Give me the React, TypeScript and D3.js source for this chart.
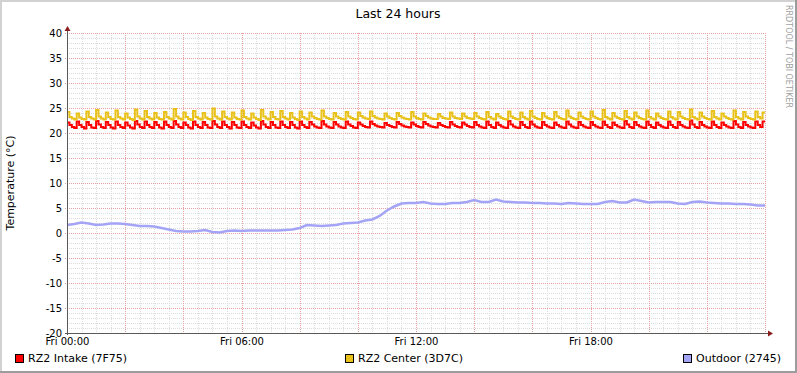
import React, { useEffect, useRef } from 'react';
import * as d3 from 'd3';

// ### Data (5 minute steps for the two room sensors, 15 minute steps outdoors)
const startTime = new Date(2024, 0, 5, 0, 0, 0); // a Friday
const stepMinutes = 5;
const outdoorStepMinutes = 15;

const intake: number[] = [
  22.1, 21.6, 21.2, 21.0, 22.3, 21.6, 21.2, 20.9, 22.2, 21.6, 21.1, 21.0,
  22.4, 21.7, 21.2, 21.0, 22.2, 21.6, 21.1, 20.9, 22.3, 21.6, 21.2, 21.0,
  22.1, 21.5, 21.1, 20.9, 22.4, 21.7, 21.2, 21.0, 22.3, 21.6, 21.2, 21.0,
  22.2, 21.6, 21.1, 20.9, 22.3, 21.6, 21.2, 21.0, 22.4, 21.7, 21.2, 21.0,
  22.1, 21.6, 21.1, 20.9, 22.3, 21.6, 21.2, 21.0, 22.2, 21.6, 21.1, 21.0,
  22.4, 21.7, 21.2, 21.0, 22.3, 21.6, 21.2, 20.9, 22.2, 21.6, 21.1, 21.0,
  22.3, 21.6, 21.2, 21.0, 22.1, 21.5, 21.1, 20.9, 22.4, 21.7, 21.2, 21.0,
  22.2, 21.6, 21.1, 21.0, 22.3, 21.6, 21.2, 21.0, 22.2, 21.6, 21.1, 20.9,
  22.3, 21.6, 21.2, 21.0, 22.2, 21.7, 21.3, 21.1, 21.0, 22.4, 21.7, 21.3,
  21.1, 21.0, 22.2, 21.7, 21.3, 21.1, 21.0, 22.3, 21.7, 21.4, 21.1, 21.0,
  22.1, 21.7, 21.4, 21.2, 21.1, 22.3, 21.8, 21.5, 21.3, 21.2, 21.1, 22.0,
  21.6, 21.4, 21.2, 21.1, 22.2, 21.8, 21.5, 21.3, 21.2, 21.1, 22.1, 21.7,
  21.4, 21.2, 21.1, 22.2, 21.8, 21.5, 21.3, 21.2, 21.1, 22.0, 21.6, 21.4,
  21.2, 21.1, 22.2, 21.7, 21.4, 21.2, 21.1, 22.1, 21.7, 21.4, 21.2, 21.1,
  22.2, 21.6, 21.3, 21.1, 21.0, 22.3, 21.6, 21.2, 21.0, 22.1, 21.6, 21.3,
  21.1, 21.0, 22.4, 21.7, 21.3, 21.1, 21.0, 22.2, 21.6, 21.2, 21.0, 22.3,
  21.7, 21.3, 21.1, 21.0, 22.2, 21.6, 21.3, 21.1, 21.0, 22.1, 21.6, 21.3,
  21.1, 21.0, 22.3, 21.7, 21.3, 21.1, 21.0, 22.2, 21.6, 21.3, 21.1, 21.0,
  22.2, 21.6, 21.3, 21.1, 21.0, 22.3, 21.6, 21.2, 21.0, 22.1, 21.6, 21.3,
  21.1, 21.0, 22.4, 21.7, 21.2, 21.0, 22.2, 21.6, 21.3, 21.1, 21.0, 22.3,
  21.6, 21.2, 21.0, 22.1, 21.6, 21.3, 21.1, 21.0, 22.3, 21.6, 21.2, 21.0,
  22.2, 21.6, 21.3, 21.1, 21.0, 22.5, 21.7, 21.2, 21.0, 22.2, 21.6, 21.3,
  21.1, 21.0, 22.3, 21.6, 21.2, 21.0, 22.1, 21.6, 21.3, 21.1, 21.0, 22.4,
  21.7, 21.2, 21.0, 22.2, 21.6, 21.3, 21.1, 21.0, 22.3, 21.6, 21.2, 22.3,
];

const center: number[] = [
  24.2, 23.2, 22.9, 22.7, 23.9, 23.1, 22.8, 22.7, 24.3, 23.2, 22.9, 22.7,
  24.6, 23.3, 22.9, 22.7, 24.1, 23.2, 22.8, 22.7, 24.5, 23.2, 22.9, 22.7,
  23.9, 23.1, 22.8, 22.6, 24.7, 23.3, 22.9, 22.7, 24.4, 23.2, 22.9, 22.7,
  24.0, 23.1, 22.8, 22.7, 24.2, 23.2, 22.9, 22.7, 24.8, 23.3, 22.9, 22.7,
  24.1, 23.2, 22.8, 22.6, 24.4, 23.2, 22.9, 22.7, 24.0, 23.1, 22.8, 22.7,
  24.9, 23.3, 22.9, 22.7, 24.3, 23.2, 22.9, 22.7, 24.1, 23.1, 22.8, 22.7,
  24.5, 23.2, 22.9, 22.7, 23.9, 23.1, 22.8, 22.6, 24.6, 23.3, 22.9, 22.7,
  24.2, 23.2, 22.8, 22.7, 24.4, 23.2, 22.9, 22.7, 24.0, 23.1, 22.8, 22.6,
  24.3, 23.2, 22.9, 22.7, 24.1, 23.3, 23.0, 22.8, 22.7, 24.5, 23.3, 23.0,
  22.8, 22.7, 24.0, 23.3, 23.0, 22.8, 22.7, 24.2, 23.3, 23.0, 22.8, 22.7,
  24.1, 23.4, 23.1, 22.9, 22.8, 24.3, 23.4, 23.1, 22.9, 22.8, 22.7, 23.9,
  23.3, 23.0, 22.8, 22.7, 24.0, 23.4, 23.1, 22.9, 22.8, 22.7, 24.2, 23.3,
  23.0, 22.8, 22.7, 23.9, 23.4, 23.1, 22.9, 22.8, 22.8, 23.8, 23.3, 23.0,
  22.9, 22.8, 24.1, 23.3, 23.0, 22.9, 22.8, 23.9, 23.3, 23.0, 22.9, 22.8,
  24.0, 23.3, 23.0, 22.8, 22.7, 24.2, 23.2, 22.9, 22.7, 23.8, 23.3, 23.0,
  22.8, 22.7, 24.3, 23.3, 23.0, 22.8, 22.7, 24.1, 23.2, 22.9, 22.7, 24.4,
  23.3, 23.0, 22.8, 22.7, 24.0, 23.3, 23.0, 22.8, 22.7, 24.2, 23.3, 23.0,
  22.8, 22.7, 24.5, 23.3, 23.0, 22.8, 22.7, 24.1, 23.3, 23.0, 22.8, 22.7,
  24.3, 23.3, 23.0, 22.8, 22.7, 24.6, 23.2, 22.9, 22.7, 24.0, 23.3, 23.0,
  22.8, 22.7, 24.4, 23.2, 22.9, 22.7, 24.1, 23.3, 23.0, 22.8, 22.7, 24.5,
  23.2, 22.9, 22.7, 23.9, 23.3, 23.0, 22.8, 22.7, 24.3, 23.2, 22.9, 22.7,
  24.2, 23.3, 23.0, 22.8, 22.7, 24.7, 23.2, 22.9, 22.7, 24.1, 23.3, 23.0,
  22.8, 22.7, 24.4, 23.2, 22.9, 22.7, 23.9, 23.3, 23.0, 22.8, 22.7, 24.5,
  23.2, 22.9, 22.7, 24.2, 23.3, 23.0, 22.8, 22.7, 24.3, 23.2, 22.9, 24.1,
];

const outdoor: number[] = [
  1.6, 1.8, 2.1, 1.9, 1.6, 1.7, 1.9, 1.9, 1.8, 1.6, 1.4, 1.4,
  1.3, 1.0, 0.7, 0.4, 0.3, 0.3, 0.4, 0.6, 0.2, 0.1, 0.4, 0.5,
  0.4, 0.5, 0.5, 0.5, 0.5, 0.5, 0.6, 0.7, 1.0, 1.6, 1.5, 1.4,
  1.5, 1.6, 1.9, 2.0, 2.1, 2.5, 2.7, 3.4, 4.5, 5.3, 5.9, 6.0,
  6.0, 6.2, 5.9, 5.8, 5.8, 6.0, 6.0, 6.2, 6.6, 6.2, 6.2, 6.7,
  6.3, 6.2, 6.1, 6.1, 6.0, 6.0, 5.9, 5.9, 5.8, 6.0, 5.9, 5.8,
  5.8, 5.8, 6.2, 6.4, 6.1, 6.1, 6.7, 6.4, 6.1, 6.2, 6.2, 6.2,
  5.9, 5.8, 6.2, 6.3, 6.1, 6.0, 5.9, 5.9, 5.8, 5.8, 5.7, 5.5,
];

const yTicks = [40, 35, 30, 25, 20, 15, 10, 5, 0, -5, -10, -15, -20];
const xLabelHours = [0, 6, 12, 18];
const seriesNames = ['RZ2 Intake (7F75)', 'RZ2 Center (3D7C)', 'Outdoor (2745)'];
const seriesColors = ['#FF0000', '#E9C11B', '#A4A4F6'];

const W = 797;
const H = 373;

const RrdTemperatureGraph: React.FC = () => {
  const svgRef = useRef<SVGSVGElement>(null);

  useEffect(() => {
    if (!svgRef.current) return;
    const svg = d3.select(svgRef.current);
    svg.selectAll('*').remove();

    const font = "'DejaVu Sans', sans-serif";
    const plot = { left: 67, right: 765, top: 33, bottom: 333 };
    const endTime = d3.timeHour.offset(startTime, 24);

    const x = d3.scaleTime().domain([startTime, endTime]).range([plot.left, plot.right]);
    const y = d3.scaleLinear().domain([-20, 40]).range([plot.bottom, plot.top]);
    const px = (v: number) => Math.round(v) + 0.5;

    // ### Frame
    svg.append('rect').attr('width', W).attr('height', H).attr('fill', '#FFFFFF');
    svg.append('rect').attr('x', 0).attr('y', 0).attr('width', W).attr('height', 2).attr('fill', '#D2D2D2');
    svg.append('rect').attr('x', 0).attr('y', 0).attr('width', 2).attr('height', H).attr('fill', '#D2D2D2');
    svg.append('rect').attr('x', 0).attr('y', H - 2).attr('width', W).attr('height', 2).attr('fill', '#9C9C9C');
    svg.append('rect').attr('x', W - 2).attr('y', 0).attr('width', 2).attr('height', H).attr('fill', '#9C9C9C');

    // ### Grid
    const grid = svg.append('g').attr('shape-rendering', 'crispEdges');
    const minorY = d3.range(-20, 41, 1).filter(v => v % 5 !== 0);
    grid.selectAll('.hminor').data(minorY).join('line')
      .attr('x1', plot.left).attr('x2', plot.right)
      .attr('y1', d => px(y(d))).attr('y2', d => px(y(d)))
      .attr('stroke', '#DCDCDC').attr('stroke-dasharray', '1,1');
    const minorX = d3.timeMinute.every(30)!.range(startTime, d3.timeMinute.offset(endTime, 1))
      .filter(d => d.getMinutes() !== 0 || d.getHours() % 2 !== 0);
    grid.selectAll('.vminor').data(minorX).join('line')
      .attr('x1', d => px(x(d))).attr('x2', d => px(x(d)))
      .attr('y1', plot.top).attr('y2', plot.bottom)
      .attr('stroke', '#DCDCDC').attr('stroke-dasharray', '1,1');
    grid.selectAll('.hmajor').data(yTicks).join('line')
      .attr('x1', plot.left - 2).attr('x2', plot.right)
      .attr('y1', d => px(y(d))).attr('y2', d => px(y(d)))
      .attr('stroke', '#E6A2A2').attr('stroke-dasharray', '1,1');
    const majorX = d3.timeHour.every(2)!.range(startTime, d3.timeMinute.offset(endTime, 1));
    grid.selectAll('.vmajor').data(majorX).join('line')
      .attr('x1', d => px(x(d))).attr('x2', d => px(x(d)))
      .attr('y1', plot.top).attr('y2', plot.bottom + 2)
      .attr('stroke', '#E6A2A2').attr('stroke-dasharray', '1,1');

    // ### Series
    const toPoints = (vals: number[], mins: number) => {
      const pts = vals.map((v, i) => ({ t: d3.timeMinute.offset(startTime, i * mins), v }));
      pts.push({ t: d3.timeMinute.offset(startTime, vals.length * mins), v: vals[vals.length - 1] });
      return pts;
    };
    const stepLine = d3.line<{ t: Date; v: number }>()
      .x(d => x(d.t))
      .y(d => y(d.v))
      .curve(d3.curveStepAfter);
    const smoothLine = d3.line<{ t: Date; v: number }>()
      .x(d => x(d.t))
      .y(d => y(d.v));

    [intake, center].forEach((vals, i) => {
      svg.append('path')
        .datum(toPoints(vals, stepMinutes))
        .attr('fill', 'none')
        .attr('stroke', seriesColors[i])
        .attr('stroke-width', 2)
        .attr('stroke-linejoin', 'miter')
        .attr('d', stepLine);
    });
    svg.append('path')
      .datum(toPoints(outdoor, outdoorStepMinutes))
      .attr('fill', 'none')
      .attr('stroke', seriesColors[2])
      .attr('stroke-width', 2.5)
      .attr('d', smoothLine);

    // ### Axes
    const axisG = svg.append('g').attr('shape-rendering', 'crispEdges');
    axisG.append('line').attr('x1', px(plot.left)).attr('x2', px(plot.left))
      .attr('y1', plot.bottom + 2).attr('y2', plot.top - 4).attr('stroke', '#5A5A5A');
    axisG.append('line').attr('x1', plot.left - 2).attr('x2', plot.right + 4)
      .attr('y1', px(plot.bottom)).attr('y2', px(plot.bottom)).attr('stroke', '#5A5A5A');
    svg.append('path')
      .attr('d', `M${plot.left + 0.5},${plot.top - 7} L${plot.left + 3.5},${plot.top - 2} L${plot.left - 2.5},${plot.top - 2} Z`)
      .attr('fill', '#8B1C1C');
    svg.append('path')
      .attr('d', `M${plot.right + 8},${plot.bottom + 0.5} L${plot.right + 3},${plot.bottom + 3.5} L${plot.right + 3},${plot.bottom - 2.5} Z`)
      .attr('fill', '#8B1C1C');

    const yAxis = d3.axisLeft(y).tickValues(yTicks).tickSize(0).tickPadding(0)
      .tickFormat(d => String(d));
    const yAxisG = svg.append('g').attr('transform', `translate(${plot.left - 5},0)`).call(yAxis);
    yAxisG.select('.domain').remove();
    yAxisG.selectAll('text').attr('font-family', font).attr('font-size', 10).attr('fill', '#000').attr('dy', '0.36em');

    const xAxis = d3.axisBottom(x)
      .tickValues(xLabelHours.map(h => d3.timeHour.offset(startTime, h)))
      .tickSize(0).tickPadding(0)
      .tickFormat(d => d3.timeFormat('%a %H:%M')(d as Date));
    const xAxisG = svg.append('g').attr('transform', `translate(0,${plot.bottom + 4})`).call(xAxis);
    xAxisG.select('.domain').remove();
    xAxisG.selectAll('text').attr('font-family', font).attr('font-size', 10).attr('fill', '#000').attr('dy', '0.8em');

    // ### Titles
    svg.append('text').attr('x', 398).attr('y', 18).attr('text-anchor', 'middle')
      .attr('font-family', font).attr('font-size', 12.5).text('Last 24 hours');
    svg.append('text').attr('transform', `translate(14,${(plot.top + plot.bottom) / 2}) rotate(-90)`)
      .attr('text-anchor', 'middle').attr('font-family', font).attr('font-size', 11)
      .text('Temperature (°C)');
    svg.append('text').attr('transform', `translate(786,5) rotate(90)`)
      .attr('font-family', font).attr('font-size', 8).attr('fill', '#A0A0A0')
      .text('RRDTOOL / TOBI OETIKER');

    // ### Legend
    const legendX = [15, 345, 683];
    seriesNames.forEach((name, i) => {
      svg.append('rect').attr('x', legendX[i] + 0.5).attr('y', 354.5).attr('width', 8).attr('height', 8)
        .attr('fill', seriesColors[i]).attr('stroke', '#000').attr('shape-rendering', 'crispEdges');
      svg.append('text').attr('x', legendX[i] + 13).attr('y', 362)
        .attr('font-family', font).attr('font-size', 11).attr('fill', '#000').text(name);
    });
  }, []);

  return (
    <svg ref={svgRef} width={W} height={H}
      style={{ position: 'absolute', left: 0, top: 0, display: 'block' }} />
  );
};

export default function App() {
  return <RrdTemperatureGraph />;
}
